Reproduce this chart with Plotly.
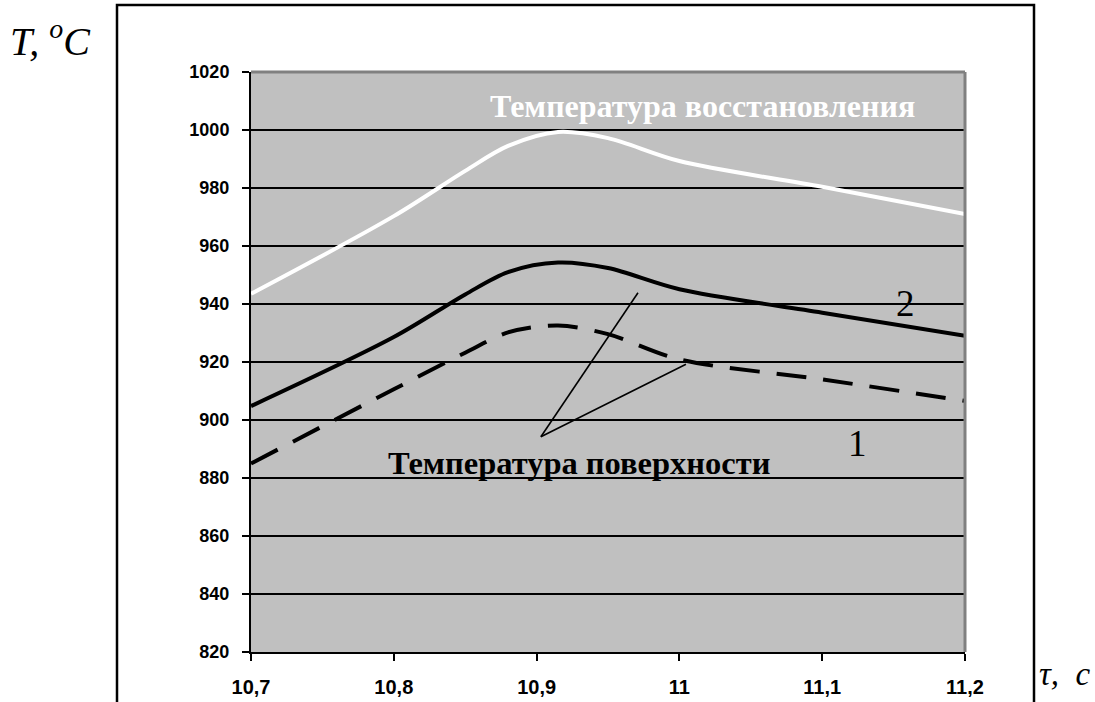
import plotly.graph_objects as go

# ---- data ----
tau = [10.7, 10.8, 10.85, 10.88, 10.915, 10.95, 11.0, 11.1, 11.2]
t_recovery = [943.5, 970.3, 985.9, 994.5, 999.3, 997.2, 989.3, 980.4, 971.0]
t_surface_2 = [904.8, 928.6, 943.3, 951.0, 954.3, 952.4, 945.1, 937.0, 929.0]
t_surface_1 = [885.0, 910.6, 923.2, 930.2, 932.6, 929.6, 920.9, 914.0, 906.6]

x_ticks = [10.7, 10.8, 10.9, 11.0, 11.1, 11.2]
x_tick_labels = ["10,7", "10,8", "10,9", "11", "11,1", "11,2"]
y_ticks = list(range(820, 1021, 20))
y_tick_labels = [str(v) for v in y_ticks]

SERIF = "Liberation Serif, Times New Roman, serif"
SANS = "Liberation Sans, Arial, sans-serif"

W, H = 1095, 702
PL, PR, PT, PB = 251, 965, 72, 652  # plot area in screen pixels


def px_x(p):
    return (p - PL) / (PR - PL)


def px_y(p):
    return (PB - p) / (PB - PT)


fig = go.Figure()
fig.add_trace(go.Scatter(x=tau, y=t_recovery, mode="lines",
                         line=dict(color="white", width=4, shape="spline", smoothing=0.9),
                         showlegend=False, hoverinfo="skip"))
fig.add_trace(go.Scatter(x=tau, y=t_surface_2, mode="lines",
                         line=dict(color="black", width=4, shape="spline", smoothing=0.9),
                         showlegend=False, hoverinfo="skip"))
fig.add_trace(go.Scatter(x=tau, y=t_surface_1, mode="lines",
                         line=dict(color="black", width=4, shape="spline", smoothing=0.9,
                                   dash="30px,17px"),
                         showlegend=False, hoverinfo="skip"))

shapes = []
# outer frame
shapes.append(dict(type="rect", xref="paper", yref="paper",
                   x0=px_x(117), x1=px_x(1034), y0=px_y(720), y1=px_y(5),
                   line=dict(color="black", width=2.5), fillcolor="rgba(0,0,0,0)", layer="below"))
# gray top and right borders of plot area
shapes.append(dict(type="line", xref="paper", yref="paper", x0=0, x1=1, y0=1, y1=1,
                   line=dict(color="#808080", width=3)))
shapes.append(dict(type="line", xref="paper", yref="paper", x0=1, x1=1, y0=0, y1=1,
                   line=dict(color="#808080", width=3)))
# pointer lines for "Температура поверхности"
apex = (10.903, 894.2)
shapes.append(dict(type="line", xref="x", yref="y", x0=apex[0], y0=apex[1], x1=10.971, y1=943.9,
                   line=dict(color="black", width=1.6)))
shapes.append(dict(type="line", xref="x", yref="y", x0=apex[0], y0=apex[1], x1=11.0046, y1=919.2,
                   line=dict(color="black", width=1.6)))

annotations = [
    dict(text="<b>Температура восстановления</b>", x=px_x(702), y=px_y(106),
         xref="paper", yref="paper", xanchor="center", yanchor="middle",
         showarrow=False, font=dict(family=SERIF, size=32, color="white")),
    dict(text="<b>Температура поверхности</b>", x=px_x(579), y=px_y(463),
         xref="paper", yref="paper", xanchor="center", yanchor="middle",
         showarrow=False, font=dict(family=SERIF, size=32.5, color="black")),
    dict(text="2", x=px_x(905), y=px_y(303), xref="paper", yref="paper",
         xanchor="center", yanchor="middle", showarrow=False,
         font=dict(family=SERIF, size=37, color="black")),
    dict(text="1", x=px_x(857), y=px_y(443), xref="paper", yref="paper",
         xanchor="center", yanchor="middle", showarrow=False,
         font=dict(family=SERIF, size=37, color="black")),
    dict(text="<i>T,</i> <i><sup>o</sup>C</i>", x=px_x(50), y=px_y(38),
         xref="paper", yref="paper", xanchor="center", yanchor="middle", showarrow=False,
         font=dict(family=SERIF, size=40, color="black")),
    dict(text="<i>τ,  c</i>", x=px_x(1065), y=px_y(674),
         xref="paper", yref="paper", xanchor="center", yanchor="middle", showarrow=False,
         font=dict(family=SERIF, size=33, color="black")),
]

fig.update_layout(
    width=W, height=H,
    margin=dict(l=PL, r=W - PR, t=PT, b=H - PB, pad=0, autoexpand=False),
    paper_bgcolor="white", plot_bgcolor="#C0C0C0",
    shapes=shapes, annotations=annotations,
    xaxis=dict(range=[10.7, 11.2], tickvals=x_ticks, ticktext=x_tick_labels,
               showgrid=False, zeroline=False, showline=True, linecolor="black", linewidth=2,
               ticks="outside", ticklen=7, tickwidth=2, tickcolor="black",
               ticklabelstandoff=9, automargin=False,
               tickfont=dict(family=SANS, size=20, color="black", weight="bold"),
               fixedrange=True),
    yaxis=dict(range=[820, 1020], tickvals=y_ticks, ticktext=y_tick_labels,
               showgrid=True, gridcolor="black", gridwidth=2, zeroline=False,
               showline=True, linecolor="black", linewidth=2,
               ticks="outside", ticklen=7, tickwidth=2, tickcolor="black",
               ticklabelstandoff=9, automargin=False,
               tickfont=dict(family=SANS, size=18, color="black", weight="bold"),
               fixedrange=True),
)

# remove the default 8px page margin so the figure fills the window exactly
fig.write_html("out.html",
               config={"displayModeBar": False},
               post_script="document.body.style.margin='0';"
                           "document.body.style.overflow='hidden';")
